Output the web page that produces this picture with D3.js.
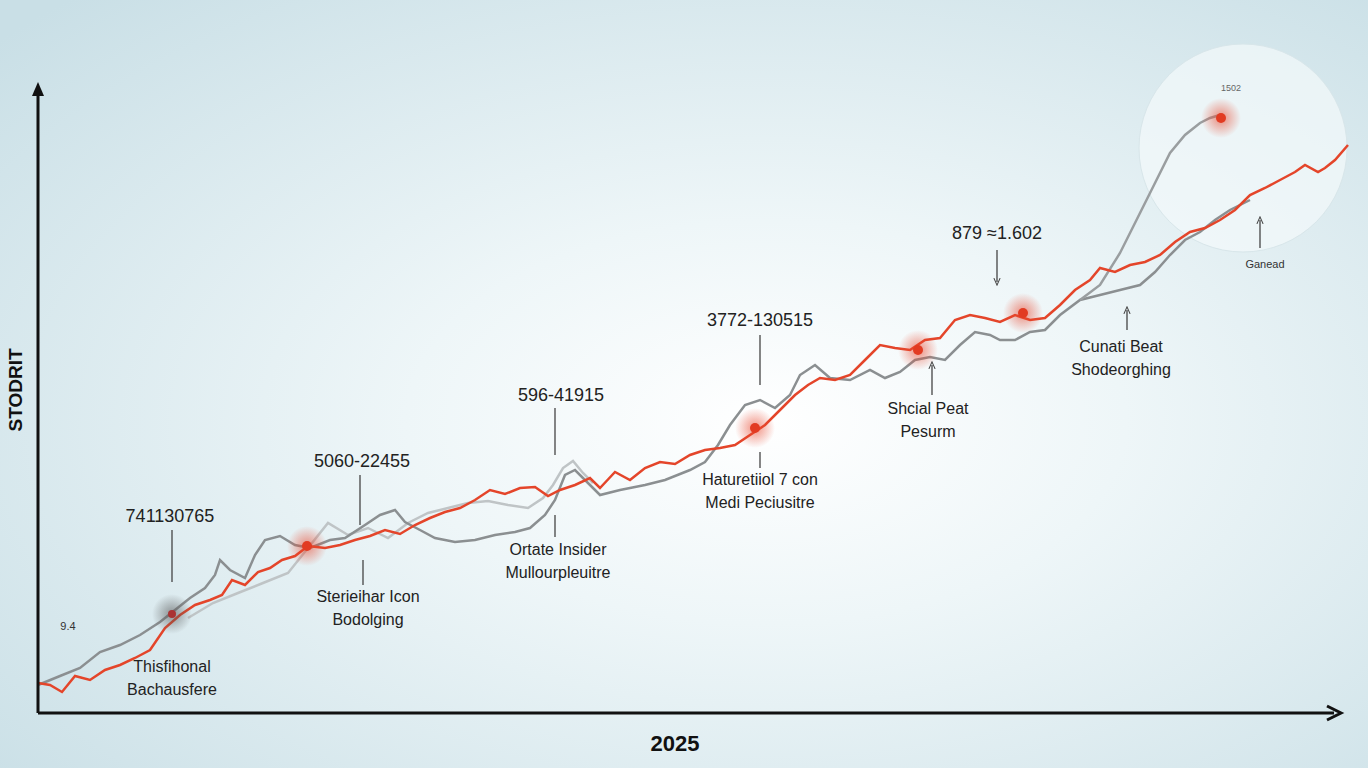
<!DOCTYPE html>
<html><head><meta charset="utf-8">
<script src="https://cdn.jsdelivr.net/npm/d3@7"></script>
<style>body{margin:0;overflow:hidden}svg{display:block}</style>
</head><body>
<svg id="c" width="1368" height="768"></svg>
<script>
// x = day offset, y = index level
const redX=[0,12,24,37,52,67,82,97,112,127,142,157,172,184,194,207,220,232,244,257,270,287,302,317,332,347,362,377,392,407,422,437,452,467,482,497,510,522,537,552,562,577,592,607,622,637,652,667,682,697,712,727,742,757,770,782,797,812,827,842,857,872,887,902,917,932,947,962,977,992,1007,1022,1037,1052,1062,1077,1092,1107,1122,1137,1152,1167,1182,1197,1212,1227,1242,1257,1267,1280,1287,1297,1310];
const redY=[30,28,21,37,33,43,48,55,63,85,98,108,113,118,133,128,141,145,153,157,167,165,168,173,177,183,179,188,195,201,205,213,223,219,225,226,217,223,228,235,225,241,233,245,251,249,258,263,265,268,278,288,303,318,328,335,333,338,353,368,365,363,373,375,393,398,395,391,398,393,395,408,423,433,445,441,448,451,458,471,481,485,493,503,518,525,533,541,548,541,545,553,568];
const grayX=[0,22,42,62,82,102,122,137,152,167,177,182,192,207,217,227,242,257,272,292,307,327,342,357,367,382,397,417,437,457,477,492,507,517,527,537,547,562,582,607,627,652,667,680,692,707,722,737,752,762,777,792,812,832,847,862,877,892,907,922,937,952,962,977,992,1007,1022,1042,1062,1082,1102,1117,1132,1147,1162,1177,1192,1212];
const grayY=[28,37,45,61,68,78,91,103,115,125,138,153,143,135,158,173,177,168,165,173,175,188,198,203,191,183,175,171,173,178,181,185,198,213,238,243,233,218,223,228,233,243,251,268,288,308,313,305,318,338,348,335,333,343,335,341,353,356,353,368,381,378,373,373,381,383,398,413,418,423,428,441,458,473,481,493,503,513];
const grayBX=[1042,1062,1082,1102,1117,1132,1147,1162,1172,1182];
const grayBY=[413,428,460,500,530,560,578,590,595,598];
const lightX=[150,175,200,225,250,270,290,310,330,350,370,390,410,430,450,470,490,505,515,525,535,545,555];
const lightY=[95,110,120,130,140,165,190,178,185,175,190,200,205,210,212,208,205,215,228,245,252,240,230];
const anns=[
 {t:["741130765"],x:170,y:517,l:[172,530,172,582]},
 {t:["5060-22455"],x:362,y:462,l:[360,475,360,525]},
 {t:["596-41915"],x:561,y:396,l:[555,408,555,455]},
 {t:["3772-130515"],x:760,y:321,l:[760,335,760,385]},
 {t:["879 ≈1.602"],x:997,y:234,l:[997,250,997,282],a:1},
 {t:["Cunati Beat","Shodeorghing"],x:1121,y:348,l:[1127,330,1127,310],a:1},
 {t:["Shcial Peat","Pesurm"],x:928,y:410,l:[932,395,932,365],a:1},
 {t:["Haturetiiol 7 con","Medi Peciusitre"],x:760,y:481,l:[760,468,760,452]},
 {t:["Ortate Insider","Mullourpleuitre"],x:558,y:551,l:[555,537,555,515]},
 {t:["Sterieihar Icon","Bodolging"],x:368,y:598,l:[363,585,363,560]},
 {t:["Thisfihonal","Bachausfere"],x:172,y:668}
];
const svg=d3.select("#c");
const defs=svg.append("defs");
const bg=defs.append("radialGradient").attr("id","bg").attr("cx","56%").attr("cy","55%").attr("r","75%");
bg.append("stop").attr("offset","0").attr("stop-color","#ffffff");
bg.append("stop").attr("offset","0.35").attr("stop-color","#eef6f8");
bg.append("stop").attr("offset","1").attr("stop-color","#c9dfe6");
const rg=defs.append("radialGradient").attr("id","rg");
rg.append("stop").attr("offset","0").attr("stop-color","#e8452c").attr("stop-opacity",0.6);
rg.append("stop").attr("offset","1").attr("stop-color","#e8452c").attr("stop-opacity",0);
const gg=defs.append("radialGradient").attr("id","gg");
gg.append("stop").attr("offset","0").attr("stop-color","#555").attr("stop-opacity",0.6);
gg.append("stop").attr("offset","1").attr("stop-color","#555").attr("stop-opacity",0);
const mk=defs.append("marker").attr("id","ar").attr("viewBox","0 0 10 10").attr("refX",5).attr("refY",5).attr("markerWidth",6).attr("markerHeight",6).attr("orient","auto-start-reverse");
mk.append("path").attr("d","M0,1L9,5L0,9").attr("fill","none").attr("stroke","#444").attr("stroke-width",1.3);
svg.append("rect").attr("width",1368).attr("height",768).attr("fill","url(#bg)");
const x=d3.scaleLinear().domain([0,1302]).range([38,1340]);
const y=d3.scaleLinear().domain([0,628]).range([713,85]);
svg.append("circle").attr("cx",1243).attr("cy",148).attr("r",104).attr("fill","#f3f9fb").attr("fill-opacity",0.7).attr("stroke","#d8e6ea");
const ln=d3.line().x(d=>x(d[0])).y(d=>y(d[1]));
const z=(a,b)=>a.map((v,i)=>[v,b[i]]);
svg.append("path").attr("d",ln(z(lightX,lightY))).attr("fill","none").attr("stroke","#bfc4c6").attr("stroke-width",2.5);
svg.append("path").attr("d",ln(z(grayX,grayY))).attr("fill","none").attr("stroke","#8b8f91").attr("stroke-width",2.5);
svg.append("path").attr("d",ln(z(grayBX,grayBY))).attr("fill","none").attr("stroke","#9a9ea0").attr("stroke-width",2.5);
svg.append("path").attr("d",ln(z(redX,redY))).attr("fill","none").attr("stroke","#e4452a").attr("stroke-width",2.5);
[[269,167],[717,285],[880,363],[985,400],[1183,595]].forEach(p=>{
 svg.append("circle").attr("cx",x(p[0])).attr("cy",y(p[1])).attr("r",20).attr("fill","url(#rg)");
 svg.append("circle").attr("cx",x(p[0])).attr("cy",y(p[1])).attr("r",5).attr("fill","#e23b22");
});
svg.append("circle").attr("cx",x(134)).attr("cy",y(99)).attr("r",20).attr("fill","url(#gg)");
svg.append("circle").attr("cx",x(134)).attr("cy",y(99)).attr("r",4).attr("fill","#a33");
svg.append("line").attr("x1",38).attr("y1",713).attr("x2",38).attr("y2",88).attr("stroke","#111").attr("stroke-width",3);
svg.append("path").attr("d","M32,96L38,82L44,96Z").attr("fill","#111");
svg.append("line").attr("x1",38).attr("y1",713).attr("x2",1334).attr("y2",713).attr("stroke","#111").attr("stroke-width",3);
svg.append("path").attr("d","M1327,706L1341,713L1327,720").attr("fill","none").attr("stroke","#111").attr("stroke-width",3);
svg.append("text").attr("x",675).attr("y",751).attr("text-anchor","middle").attr("font-family","Liberation Sans").attr("font-weight","bold").attr("font-size",22).attr("fill","#111").text("2025");
svg.append("text").attr("transform","translate(22,390) rotate(-90)").attr("text-anchor","middle").attr("font-family","Liberation Sans").attr("font-weight","bold").attr("font-size",19).attr("fill","#111").text("STODRIT");
anns.forEach(a=>{
 a.t.forEach((t,i)=>svg.append("text").attr("x",a.x).attr("y",a.y+i*23).attr("text-anchor","middle").attr("dominant-baseline","middle").attr("font-family","Liberation Sans").attr("font-size",a.t.length>1?16:18).attr("fill","#222").text(t));
 if(a.l){const s=svg.append("line").attr("x1",a.l[0]).attr("y1",a.l[1]).attr("x2",a.l[2]).attr("y2",a.l[3]).attr("stroke","#444").attr("stroke-width",1.3);if(a.a)s.attr("marker-end","url(#ar)");}
});
svg.append("text").attr("x",68).attr("y",630).attr("text-anchor","middle").attr("font-family","Liberation Sans").attr("font-size",11).attr("fill","#333").text("9.4");
svg.append("text").attr("x",1231).attr("y",91).attr("text-anchor","middle").attr("font-family","Liberation Sans").attr("font-size",9).attr("fill","#666").text("1502");
svg.append("text").attr("x",1265).attr("y",268).attr("text-anchor","middle").attr("font-family","Liberation Sans").attr("font-size",11).attr("fill","#333").text("Ganead");
svg.append("line").attr("x1",1260).attr("y1",248).attr("x2",1260).attr("y2",220).attr("stroke","#444").attr("stroke-width",1.3).attr("marker-end","url(#ar)");
</script>
</body></html>
